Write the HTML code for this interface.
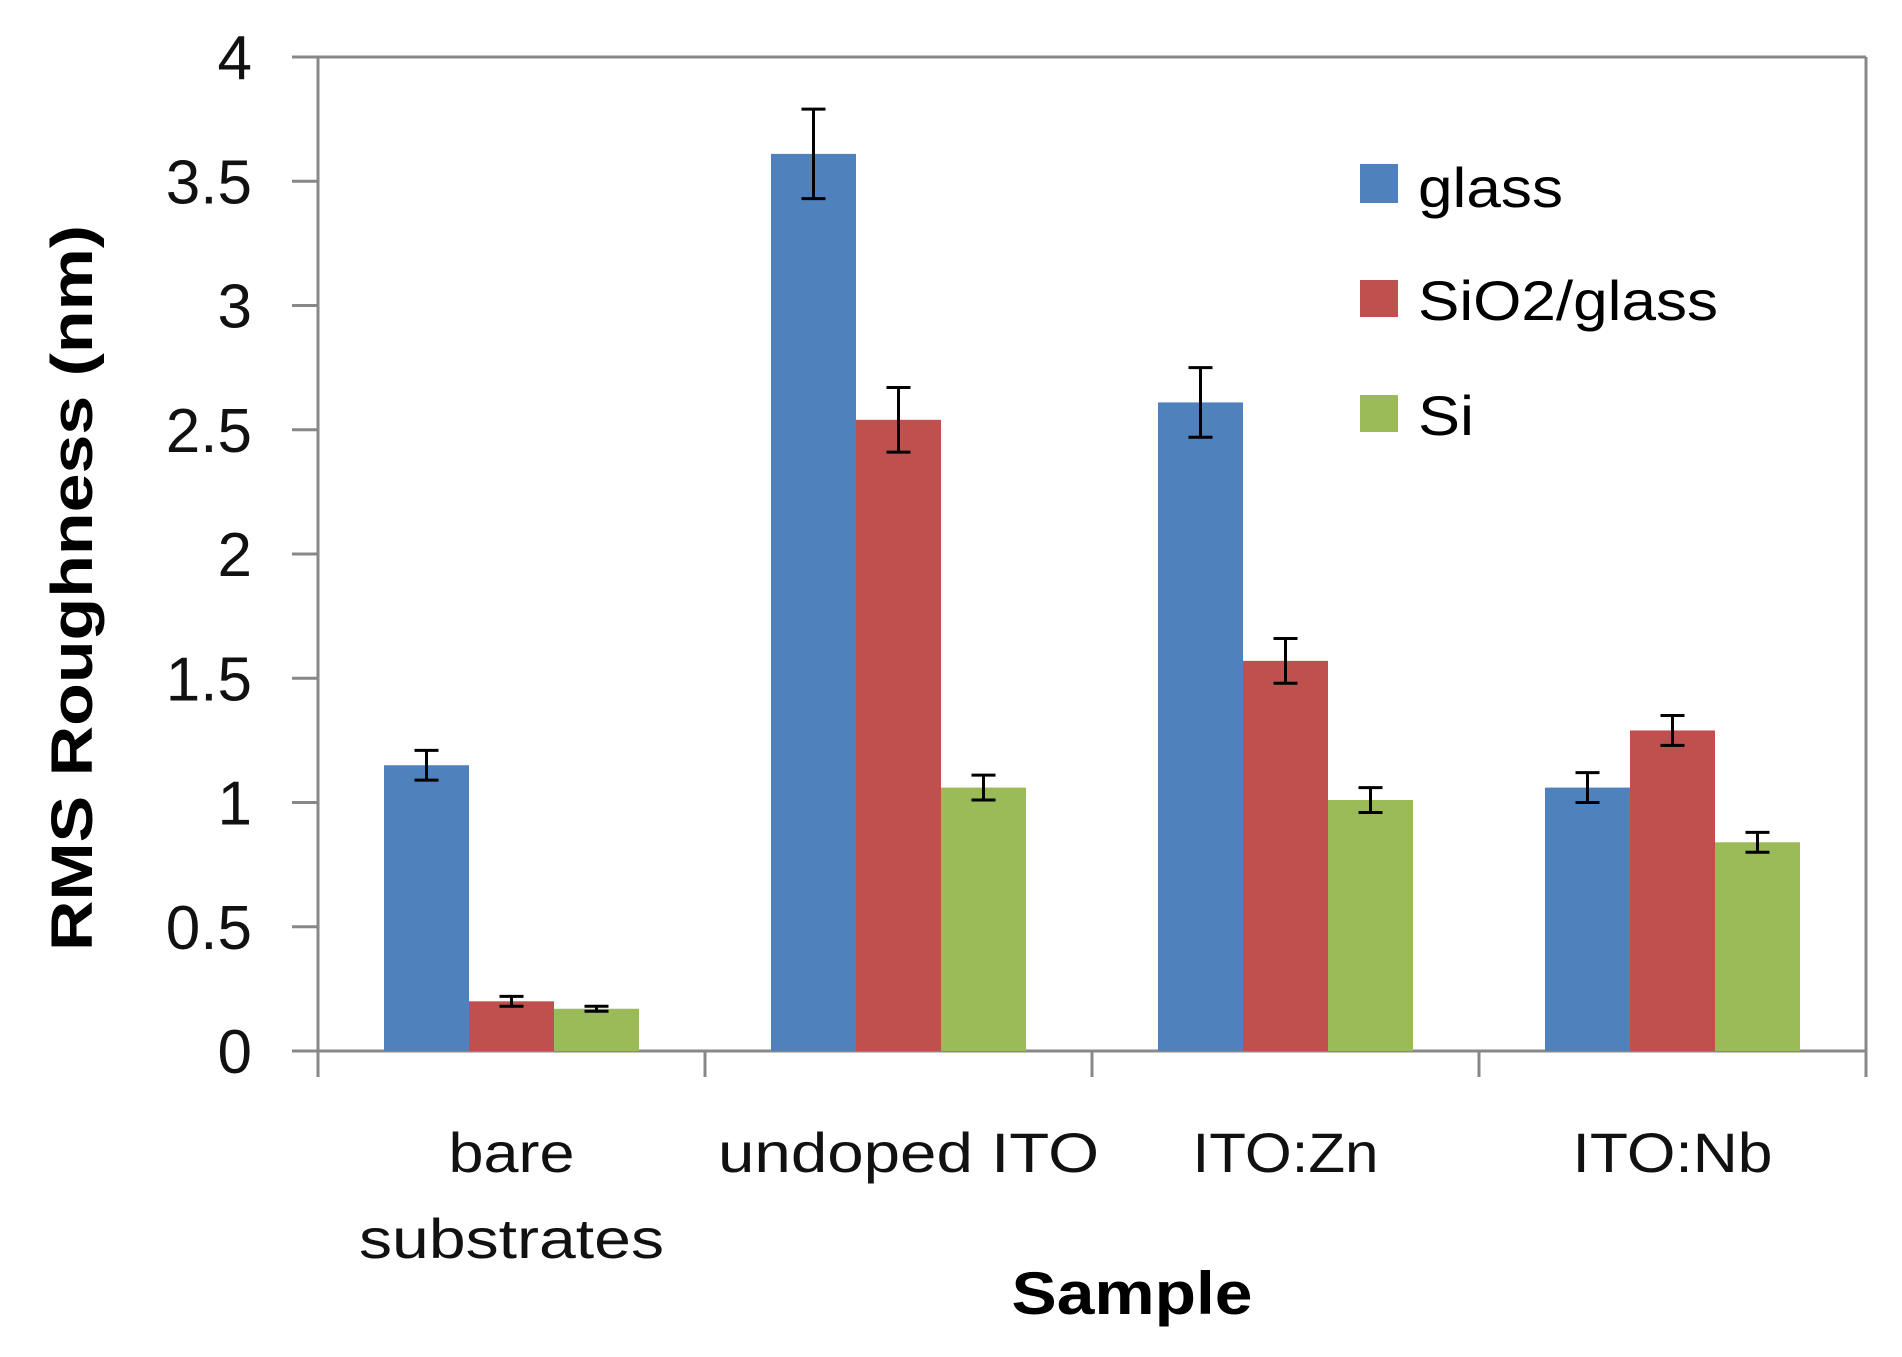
<!DOCTYPE html>
<html><head><meta charset="utf-8"><style>
html,body{margin:0;padding:0;background:#fff;}
svg{display:block;font-family:"Liberation Sans",sans-serif;}
</style></head><body>
<svg id="chart" width="1902" height="1357" viewBox="0 0 1902 1357">
<g id="grid"></g><g id="bars"></g><g id="errs"></g><g id="labels"></g>
<text transform="translate(92,588) rotate(-90)" text-anchor="middle" font-size="58" font-weight="bold" textLength="726" lengthAdjust="spacingAndGlyphs">RMS Roughness  (nm)</text>
<text x="1132" y="1314" text-anchor="middle" font-size="60" font-weight="bold" textLength="241" lengthAdjust="spacingAndGlyphs">Sample</text>
<g>
<rect x="1360" y="164" width="38" height="39" fill="#4F81BD"/>
<text x="1418" y="207" font-size="56" textLength="145" lengthAdjust="spacingAndGlyphs">glass</text>
<rect x="1360" y="280" width="38" height="37" fill="#C0504D"/>
<text x="1418" y="320" font-size="56" textLength="300" lengthAdjust="spacingAndGlyphs">SiO2/glass</text>
<rect x="1360" y="395" width="38" height="37" fill="#9BBB59"/>
<text x="1418" y="435" font-size="56" textLength="56" lengthAdjust="spacingAndGlyphs">Si</text>
</g>
</svg>
<script>
const categories = ["bare substrates","undoped ITO","ITO:Zn","ITO:Nb"];
const seriesNames = ["glass","SiO2/glass","Si"];
const glassVals = [1.15, 3.61, 2.61, 1.06];
const sio2Vals = [0.20, 2.54, 1.57, 1.29];
const siVals = [0.17, 1.06, 1.01, 0.84];
const glassErr = [0.06, 0.18, 0.14, 0.06];
const sio2Err = [0.02, 0.13, 0.09, 0.06];
const siErr = [0.01, 0.05, 0.05, 0.04];
const yTicks = ["0","0.5","1","1.5","2","2.5","3","3.5","4"];

const NS = "http://www.w3.org/2000/svg";
const X0 = 318, X1 = 1866, Y0 = 1051, Ytop = 57, YMAX = 4;
const colors = ["#4F81BD","#C0504D","#9BBB59"];
const vals = [glassVals, sio2Vals, siVals];
const errs = [glassErr, sio2Err, siErr];
const catW = (X1 - X0) / categories.length;
const barW = 85;
function y(v){ return Y0 - (v / YMAX) * (Y0 - Ytop); }
function xCat(i){ return X0 + i * catW; }
function mk(tag, attrs, parent){ const e = document.createElementNS(NS, tag); for (const k in attrs) e.setAttribute(k, attrs[k]); parent.appendChild(e); return e; }

const grid = document.getElementById('grid');
let ax = mk('line', {x1:X0, y1:Ytop, x2:X0, y2:Y0, stroke:'#888', 'stroke-width':3}, grid);


let axr = mk('line', {x1:X1, y1:Ytop, x2:X1, y2:Y0, stroke:'#888', 'stroke-width':3}, grid);


let axt = mk('line', {x1:X0, y1:Ytop, x2:X1, y2:Ytop, stroke:'#888', 'stroke-width':3}, grid);


let axx = mk('line', {x1:X0 - 26, y1:Y0, x2:X1, y2:Y0, stroke:'#888', 'stroke-width':3}, grid);



yTicks.forEach(function(t){
  const yy = y(parseFloat(t));
  const tk = mk('line', {x1:X0 - 26, y1:yy, x2:X0, y2:yy, stroke:'#888', 'stroke-width':3}, grid);
  
  
  const tl = mk('text', {x:252, y:yy + 22, 'text-anchor':'end', 'font-size':62, fill:'#111'}, grid);
  tl.textContent = t;
  
  
});
for (let i = 0; i <= categories.length; i++) {
  const xx = xCat(i);
  const tk = mk('line', {x1:xx, y1:Y0, x2:xx, y2:Y0 + 26, stroke:'#888', 'stroke-width':3}, grid);
  
  
}

const barsG = document.getElementById('bars');
const errG = document.getElementById('errs');
categories.forEach(function(c, i){
  const start = xCat(i) + (catW - barW * 3) / 2;
  for (let s = 0; s < 3; s++) {
    const v = vals[s][i], e = errs[s][i];
    const bx = start + s * barW;
    const r = mk('rect', {x:bx, y:y(v), width:barW, height:Y0 - y(v), fill:colors[s]}, barsG);
    
    
    const cx = bx + barW / 2;
    const g = mk('g', {stroke:'#000', 'stroke-width':3}, errG);
    
    
    mk('line', {x1:cx, y1:y(v + e), x2:cx, y2:y(v - e)}, g);
    mk('line', {x1:cx - 12, y1:y(v + e), x2:cx + 12, y2:y(v + e)}, g);
    mk('line', {x1:cx - 12, y1:y(v - e), x2:cx + 12, y2:y(v - e)}, g);
  }
});

const labG = document.getElementById('labels');
const labLines = [["bare","substrates"],["undoped ITO"],["ITO:Zn"],["ITO:Nb"]];
const labLens = [[126,305],[381],[186],[200]];
labLines.forEach(function(lines, i){
  const cx = xCat(i) + catW / 2;
  lines.forEach(function(l, j){
    const t = mk('text', {x:cx + (i===1 ? 10 : 0), y:1172 + j * 86, 'text-anchor':'middle', 'font-size':56, fill:'#111', textLength:labLens[i][j], lengthAdjust:'spacingAndGlyphs'}, labG);
    t.textContent = l;
    
    
  });
});
</script>
</body></html>
